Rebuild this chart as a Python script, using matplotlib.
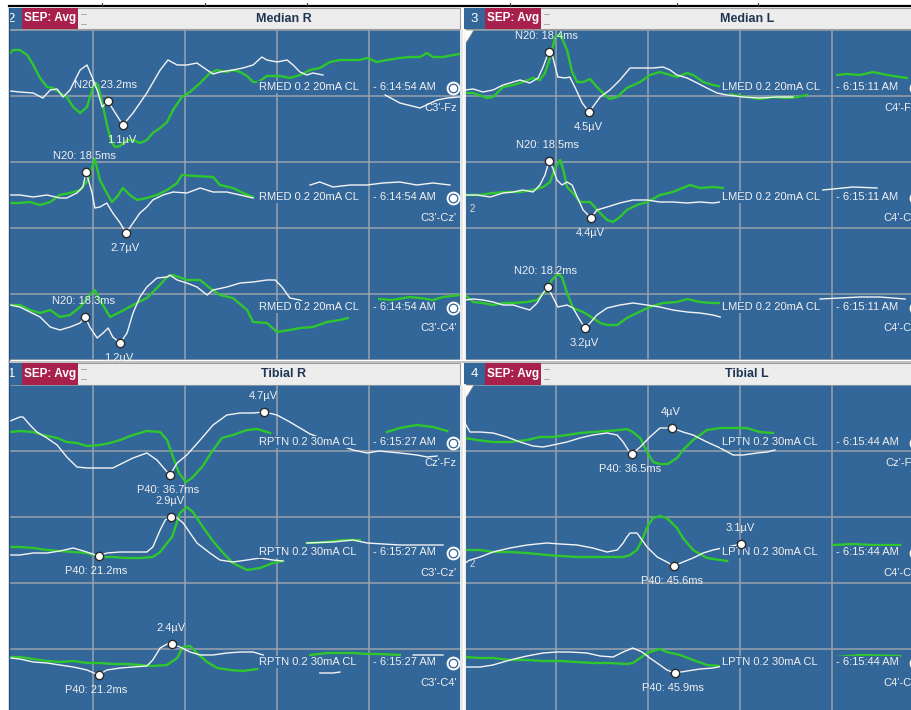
import numpy as np
import matplotlib
matplotlib.use("Agg")
import matplotlib.pyplot as plt
from matplotlib.patches import Rectangle, Polygon

plt.rcParams['font.family'] = ['Liberation Sans', 'DejaVu Sans']

GAP = (np.nan, np.nan)

# Averaged SEP traces: (latency ms, amplitude µV relative to channel baseline)
# white = current average, green = baseline reference average

# ---- Median R ----
mr1_white = [(2.0,-0.6),(4.1,-0.7),(7.0,-0.8),(9.1,-1.3),(10.7,-0.5),(12.2,-0.4),(13.5,-1.2),(15.0,-0.5),
             (17.2,1.5),(18.7,2.0),(19.8,0.8),(20.9,-0.5),(22.0,-2.2),(23.2,-1.6),(26.5,-4.0),(28.7,-2.8),
             (31.7,-0.8),(34.6,1.5),(36.3,2.5),(38.3,2.0),(40.4,2.0),(42.6,2.2),(44.8,1.5),(46.1,1.1),
             (47.6,1.3),(50.4,1.5),(52.6,1.7),(54.8,2.0),(56.7,2.8),(57.8,2.5),(60.0,2.3),(62.2,2.5),
             (63.5,2.0),(65.0,1.3),(66.5,1.0),(67.8,1.2),(70.0,1.0),GAP,(83.5,-1.0),(86.7,-1.8),
             (91.1,-2.3),(94.8,-1.5),(97.0,-1.3),(99.6,-1.2)]
mr1_green = [(2.0,3.2),(2.6,3.5),(4.1,3.5),(5.7,3.0),(7.0,2.0),(8.5,0.7),(10.0,-0.2),(11.3,-0.3),
             (12.8,-0.8),(14.3,-1.2),(15.7,-2.2),(17.2,-2.8),(18.7,-2.2),(19.8,-0.5),(20.4,0.2),(21.1,0.0),
             (22.2,-2.2),(23.3,-4.5),(24.1,-5.8),(24.8,-6.2),(25.9,-6.1),(27.4,-5.5),(28.7,-5.5),(30.2,-5.8),
             (31.7,-5.5),(33.0,-4.8),(34.6,-4.3),(36.1,-3.7),(37.4,-2.5),(39.3,-1.2),(41.1,-0.7),(43.3,0.2),
             (45.4,1.2),(47.0,1.5),(49.1,1.3),(50.4,1.5),(52.0,1.3),(53.5,0.9),(54.8,0.3),(55.9,0.3),
             (57.8,0.9),(60.7,0.9),(62.8,0.7),(65.0,1.0),(67.2,1.5),(69.3,1.7),(71.5,2.3),(73.7,2.5),
             (75.9,2.5),(78.0,2.5),(79.6,2.7),(81.7,2.3),(83.9,2.5),(86.7,2.7),(88.9,2.8),(91.1,2.8),
             (92.6,3.2),(93.9,2.8),(96.1,2.8),(98.3,3.0),(99.8,3.1)]
mr2_white = [(2.0,0.0),(4.1,0.0),(7.0,-0.2),(10.0,0.0),(12.8,-0.3),(14.3,-0.3),(16.5,0.2),(17.8,0.8),
             (18.5,2.3),(19.8,0.2),(20.4,-1.3),(21.5,-1.2),(23.0,-0.8),(24.3,-1.8),(25.9,-2.8),(27.2,-3.8),
             (28.7,-2.8),(30.2,-1.8),(31.7,-1.2),(33.0,-0.5),(35.2,0.0),(37.4,0.3),(40.4,0.2),(43.3,0.7),
             (46.1,0.3),(49.1,0.3),(52.0,0.0),(54.8,-0.3),GAP,(67.2,1.0),(69.3,1.3),(72.2,0.8),(75.9,1.0),
             (79.6,1.0),(83.0,1.2),(86.7,1.3),(90.4,1.0),(93.9,1.2),(97.6,1.0)]
mr2_green = [(2.0,-0.8),(4.1,-0.8),(6.3,-0.7),(8.5,-1.0),(10.7,-0.7),(12.8,0.0),(15.0,0.2),(17.2,0.5),
             (18.9,1.5),(20.4,3.6),(21.5,1.5),(23.0,0.2),(24.1,-0.7),(25.2,-0.2),(26.5,0.7),(28.0,0.0),
             (29.6,-0.5),(31.7,-0.3),(33.9,0.0),(36.1,0.5),(38.3,1.2),(39.3,2.0),(42.2,1.9),(46.1,1.8),
             (47.6,1.0),(50.4,0.7),(52.6,0.2),(54.8,-0.2)]
mr3_white = [(2.0,0.0),(4.1,-0.2),(6.3,-0.7),(8.5,-1.2),(10.7,-2.2),(12.8,-2.5),(15.0,-2.2),(17.2,-1.8),
             (18.3,-1.2),(19.3,-2.2),(20.9,-3.3),(22.2,-2.8),(23.3,-2.3),(24.3,-3.2),(25.9,-3.8),(27.4,-2.8),
             (28.7,-0.8),(30.2,0.8),(31.7,1.8),(33.9,2.7),(36.1,2.8),(36.7,3.0),(38.3,2.5),(40.4,2.2),
             (42.6,1.8),(44.8,1.0),(46.1,1.5),(49.1,1.8),(52.0,2.2),(54.8,2.3),(57.8,2.5),(59.6,2.5),
             (61.1,1.8),(62.8,0.7),(65.0,0.5),(65.7,0.3)]
mr3_green = [(2.0,0.0),(4.1,0.0),(6.3,-0.5),(8.5,-0.8),(10.7,-0.5),(12.8,-1.2),(15.0,-1.0),(17.2,-0.2),
             (19.3,1.0),(20.4,1.5),(21.5,0.5),(23.7,-1.2),(25.9,-0.7),(28.7,0.0),(31.7,0.7),(33.9,1.7),
             (36.1,2.8),(37.4,3.0),(40.4,2.5),(43.3,2.5),(45.4,1.7),(47.6,1.0),(50.4,0.7),(53.5,-0.5),
             (54.8,-1.7),(57.8,-1.8),(60.0,-2.7),(62.8,-2.5),(65.0,-2.3),(67.8,-2.2),(70.9,-1.7),(73.7,-1.5),
             (75.4,-1.3),GAP,(82.2,0.6),(85.0,0.5),(88.9,0.8),(91.1,0.7),(93.9,0.5),(96.1,0.8),(99.8,1.0)]

# ---- Median L ----
ml1_white = [(0.2,-0.5),(2.0,-0.4),(4.1,-0.7),(6.3,-0.5),(8.5,0.0),(10.7,0.3),(12.2,0.5),(14.3,0.2),
             (16.1,0.7),(17.2,1.8),(18.4,3.3),(19.3,2.8),(20.4,0.8),(22.0,0.7),(23.0,0.8),(24.1,-0.2),
             (25.7,-1.8),(27.2,-2.7),(28.0,-2.2),(29.6,-1.2),(31.7,-0.5),(33.9,0.5),(36.1,1.7),(38.3,1.7),
             (41.1,1.7),(43.3,1.8),(44.8,1.5),(46.3,1.0),(48.5,0.7),(50.7,0.2),(52.8,-0.3),(55.0,-0.8),
             (57.2,-1.0),(60.7,-1.2),(64.3,-1.3),(68.0,-1.2),(71.5,-1.2)]
ml1_green = [(0.2,-0.8),(2.0,-0.8),(5.0,-1.3),(6.3,-1.2),(8.5,-0.2),(10.7,0.0),(12.8,0.3),(15.0,0.7),
             (16.5,0.5),(17.6,1.2),(18.7,2.7),(19.8,4.8),(20.9,5.1),(22.4,3.5),(23.5,1.3),(24.6,0.3),
             (25.9,0.3),(27.4,0.6),(28.9,-0.2),(30.2,-0.8),(31.7,-1.4),(33.3,-1.2),(35.4,-0.3),(38.3,0.3),
             (40.4,1.0),(42.6,1.3),(44.8,1.0),(46.3,0.8),(48.5,1.2),(49.8,1.0),(52.0,0.3),(54.1,0.0),
             (56.3,-0.2),(58.5,-1.0),(61.5,-1.2),(64.3,-1.4),(67.2,-1.2),(70.2,-1.3),(72.4,-1.2),(74.6,-1.0),
             GAP,(81.1,1.0),(83.3,1.1),(86.1,1.0),(88.9,1.3),(92.0,1.0),(94.8,0.8),(96.3,0.7)]
ml2_white = [(0.2,0.0),(2.8,0.0),(5.7,-0.2),(8.5,0.2),(10.7,0.3),(12.8,0.5),(15.0,0.3),(16.5,1.0),
             (17.6,2.0),(18.5,3.4),(19.3,2.7),(20.2,1.5),(21.3,1.0),(22.4,1.3),(23.5,1.0),(24.6,-0.2),
             (25.9,-1.5),(27.6,-2.3),(28.9,-1.5),(31.1,-1.2),(33.9,-0.8),(36.7,-0.5),(39.8,-0.5),(42.6,-0.7),
             (45.4,-0.7),(48.5,-0.8),(51.3,-0.7),(54.1,-0.8),(55.7,-0.7),GAP,(78.0,0.5),(82.4,0.7),
             (84.6,0.8),(89.8,0.7)]
ml2_green = [(0.2,0.0),(3.5,0.0),(6.3,0.2),(9.3,0.3),(12.2,0.3),(15.0,0.5),(17.2,0.8),(18.7,1.3),
             (19.8,2.7),(20.9,3.5),(21.6,2.5),(22.4,0.8),(23.7,0.2),(25.2,-0.7),(27.4,-0.7),(29.6,-1.8),
             (31.1,-2.5),(32.4,-2.7),(33.9,-2.2),(35.4,-1.5),(37.6,-1.0),(39.8,-0.7),(42.6,0.0),(45.4,0.3),
             (49.1,1.0),(51.3,0.7),(54.1,0.8),(56.3,0.7)]
ml3_white = [(0.2,0.5),(2.0,0.6),(4.1,0.5),(6.3,0.3),(8.5,0.0),(10.7,0.0),(12.8,-0.3),(14.3,-0.5),
             (15.9,0.2),(17.2,1.2),(18.2,1.8),(19.3,0.8),(20.4,-0.2),(22.4,0.0),(23.7,-0.3),(25.2,-1.5),
             (26.3,-2.3),(27.4,-1.8),(28.9,-1.0),(31.1,-0.3),(33.9,0.0),(36.7,0.2),(39.8,0.0),(42.6,-0.2),
             (45.4,-0.5),(48.5,-0.7),(51.3,-0.8),(54.1,-1.0),(55.7,-1.2),GAP,(77.4,0.6),(81.7,0.7),
             (86.1,0.8),(90.4,0.8),(95.9,0.6)]
ml3_green = [(0.2,1.0),(2.0,0.3),(4.1,0.2),(6.3,0.0),(8.5,0.2),(10.7,0.2),(13.7,0.3),(15.9,0.5),
             (17.6,1.3),(19.1,2.5),(20.4,3.1),(21.3,2.8),(22.4,1.2),(23.7,-0.3),(25.9,-0.7),(28.0,-1.3),
             (29.6,-1.8),(31.1,-2.0),(33.3,-2.0),(35.4,-1.3),(37.6,-0.8),(40.4,-0.2),(43.3,0.2),(46.3,0.3),
             (48.5,0.6),(51.3,0.3),(54.1,0.2),(56.1,0.2)]

# ---- Tibial R ----
tr1_white = [(2.0,1.9),(4.1,2.3),(4.8,2.3),(6.3,1.5),(7.8,0.8),(10.0,0.2),(12.2,-0.5),(14.3,-1.7),
             (16.5,-2.7),(18.7,-2.8),(21.5,-2.8),(24.3,-2.8),(26.5,-2.3),(28.7,-1.8),(31.7,-1.3),(33.9,-2.0),
             (35.2,-2.7),(36.7,-3.5),(38.3,-2.3),(40.4,-1.5),(43.3,0.0),(46.1,1.5),(49.1,2.5),(52.0,2.7),
             (54.8,2.7),(57.2,2.8),(60.0,2.5),(62.8,1.8),(65.0,1.2),(67.2,0.6),(76.5,-1.0),(79.6,-1.3),
             (82.2,-1.1),(86.7,-1.3),(90.4,-1.5),(92.6,-1.7),(94.8,-1.6)]
tr1_green = [(2.0,0.8),(4.1,0.9),(7.0,0.8),(9.1,0.5),(12.2,0.2),(14.3,-0.2),(16.5,-0.3),(18.7,-0.6),
             (21.5,-0.5),(23.7,-0.3),(25.9,0.0),(28.7,0.5),(31.7,0.9),(34.6,0.8),(36.1,0.0),(37.4,-1.7),
             (38.7,-3.3),(40.2,-4.2),(41.5,-3.8),(43.7,-2.7),(46.1,-1.0),(48.0,0.2),(50.4,0.5),(53.5,1.0),
             (55.7,1.1),(57.8,0.8),(58.5,0.7),GAP,(83.9,0.8),(86.7,1.2),(90.4,1.5),(93.9,1.3),(97.0,0.9)]
tr2_white = [(2.0,-0.5),(4.1,-0.5),(7.0,-0.3),(10.0,-0.3),(12.8,-0.1),(15.7,0.2),(17.2,0.0),(19.3,-0.3),
             (21.2,-0.6),(23.0,-0.3),(25.9,-0.2),(28.7,-0.2),(31.7,-0.2),(33.0,0.3),(34.6,2.0),(35.7,3.0),
             (37.0,3.3),(38.3,3.2),(39.6,2.7),(41.1,1.7),(42.6,0.7),(45.4,-0.3),(47.6,-1.0),(50.4,-1.2),
             (53.5,-1.0),(56.3,-0.8),(59.1,-1.0),(61.3,-1.1),GAP,(66.5,0.7),(72.2,0.8),(76.5,1.0),
             (79.6,0.7),(86.7,0.5),(96.1,0.5)]
tr2_green = [(2.0,0.3),(4.1,0.3),(7.0,0.2),(10.0,0.0),(12.8,-0.1),(15.7,-0.2),(18.7,-0.3),(21.5,-0.7),
             (24.3,-0.7),(27.4,-0.8),(30.2,-0.8),(33.0,-0.7),(34.6,-0.2),(36.1,0.7),(37.2,1.3),(38.9,3.7),
             (40.4,4.3),(41.7,3.8),(43.9,2.3),(45.9,1.0),(48.3,-0.3),(50.4,-1.3),(53.5,-2.0),(56.3,-1.8),
             (59.1,-1.3),(61.3,-1.1),GAP,(66.5,0.7),(70.9,0.8),(74.3,1.0),(78.0,1.0)]
tr3_white = [(2.0,0.2),(4.1,0.1),(7.0,-0.2),(10.0,-0.3),(12.8,-0.5),(15.7,-0.7),(18.7,-1.0),(21.2,-1.5),
             (23.0,-1.0),(25.9,-0.8),(28.7,-0.7),(31.7,-0.6),(33.0,0.0),(34.6,1.2),(36.1,1.6),(37.2,1.6),
             (38.9,1.3),(41.1,0.8),(43.3,0.5),(46.1,0.5),(49.1,0.7),(52.0,0.8),(54.8,0.8),(57.0,0.5),
             GAP,(69.3,-1.3),(72.2,-1.3),(73.7,-1.2),GAP,(89.6,0.5),(96.1,0.5)]
tr3_green = [(2.0,0.3),(4.1,0.3),(7.0,0.1),(10.0,-0.1),(12.8,-0.2),(15.7,-0.1),(18.7,-0.3),(21.5,-0.3),
             (24.3,-0.4),(27.4,-0.4),(30.2,-0.5),(33.0,-0.6),(36.1,-0.5),(38.3,0.2),(39.6,1.3),(41.1,1.4),
             (42.6,0.7),(44.8,-0.2),(47.0,-0.8),(49.8,-1.0),(52.6,-1.1),(55.7,-0.9),GAP,(67.2,0.5),
             (70.9,0.7),(73.7,0.7),(76.5,0.7),(79.6,0.6),(82.2,0.6),(86.7,0.5)]

# ---- Tibial L ----
tl1_white = [(0.2,1.7),(1.3,0.8),(3.5,0.8),(6.3,0.7),(9.3,0.3),(12.2,-0.2),(15.0,-0.6),(17.2,-0.7),
             (19.3,-0.5),(22.4,-0.2),(25.2,0.2),(28.0,0.5),(31.1,0.7),(33.3,0.5),(34.6,-0.2),(35.7,-1.0),
             (36.5,-1.4),(38.3,-0.7),(40.4,0.3),(42.6,1.2),(45.2,1.2),(47.6,0.8),(49.8,0.5),(52.8,-0.2),
             (55.7,-0.8),(58.5,-1.5),(60.7,-1.5),(63.7,-1.3),(65.9,-1.2),(67.6,-1.0)]
tl1_green = [(0.2,0.2),(2.8,0.0),(6.3,-0.2),(10.0,-0.2),(13.7,0.0),(16.5,0.3),(19.3,0.3),(22.4,0.5),
             (25.2,0.7),(28.0,0.8),(31.1,0.9),(33.9,1.0),(35.4,1.1),(36.7,0.8),(38.3,0.2),(39.8,-1.2),
             (41.1,-2.2),(42.6,-2.4),(44.3,-2.4),(46.3,-1.8),(47.6,-1.0),(49.8,0.0),(52.8,1.0),(55.7,1.2),
             (58.5,1.2),(61.5,1.2),(64.3,0.8),(67.2,0.7)]
tl2_white = [(0.2,-1.3),(1.3,-1.0),(3.5,-0.7),(6.3,-0.2),(10.0,0.2),(13.7,0.5),(18.0,0.7),(20.9,0.6),
             (24.6,0.5),(28.0,0.2),(31.1,-0.2),(33.3,0.0),(34.6,0.7),(35.4,1.3),(36.1,1.7),(37.6,1.7),
             (38.7,1.0),(39.8,0.3),(42.0,-0.7),(44.1,-1.2),(45.6,-1.6),(47.6,-1.2),(49.8,-0.8),(52.0,-0.3),
             (54.1,0.0),(57.2,0.3),(60.2,0.6)]
tl2_green = [(0.2,0.0),(3.5,0.0),(6.3,-0.2),(10.0,-0.2),(13.7,-0.3),(18.0,-0.5),(20.9,-0.6),(24.6,-0.7),
             (28.0,-0.7),(31.7,-0.7),(34.6,-0.7),(36.1,-0.5),(37.6,0.0),(38.7,1.0),(39.8,2.3),(41.1,3.2),
             (42.6,3.4),(44.1,3.2),(46.3,2.2),(47.6,1.2),(49.8,0.0),(52.8,-0.8),(55.7,-1.0),(57.2,-1.1),
             GAP,(80.2,0.5),(84.6,0.6),(88.9,0.5),(94.8,0.5)]
tl3_white = [(0.2,-0.7),(3.5,-0.7),(6.3,-0.5),(10.0,0.0),(13.7,0.4),(17.2,0.7),(20.2,0.8),(23.0,0.8),
             (26.7,0.7),(29.6,0.4),(32.4,0.3),(34.6,0.8),(36.7,1.2),(38.7,0.8),(40.4,0.2),(42.6,-0.5),
             (44.1,-1.0),(45.9,-1.3),(48.5,-1.1),(51.3,-0.9),(54.1,-0.8),(56.3,-0.6)]
tl3_green = [(0.2,0.3),(3.5,0.2),(6.3,0.2),(10.0,0.0),(13.7,0.0),(17.2,-0.1),(20.9,-0.1),(24.6,-0.2),
             (28.0,-0.3),(31.7,-0.3),(35.4,-0.4),(36.7,-0.3),(38.3,0.2),(39.8,0.7),(41.1,0.9),(42.6,1.1),
             (44.1,0.8),(47.0,0.5),(49.8,0.0),(52.8,-0.5),(55.7,-0.6),(56.3,-0.6),GAP,(81.1,0.3),
             (86.1,0.5),(94.8,0.4)]

# ---- cursor marks ----
median_r_n20_ms = [23.2, 18.5, 18.3]
median_r_trough_ms = [26.5, 27.2, 25.9]
median_r_amp_uV = [1.1, 2.7, 1.2]
median_l_n20_ms = [18.4, 18.5, 18.2]
median_l_trough_ms = [27.2, 27.6, 26.3]
median_l_amp_uV = [4.5, 4.4, 3.2]
tibial_r_p40_ms = [36.7, 21.2, 21.2]
tibial_r_peak_ms = [57.2, 37.0, 37.2]
tibial_r_amp_uV = [4.7, 2.9, 2.4]
tibial_l_p40_ms = [36.5, 45.6, 45.9]
tibial_l_peak_ms = [45.2, 60.2, None]
tibial_l_amp_uV = [4, 3.1, None]

# ---- channel annotations (right-hand window shows only the start of each name) ----
median_r_channels = ["C3'-Fz", "C3'-Cz'", "C3'-C4'"]
median_l_channels = ["C4'-F", "C4'-C", "C4'-C"]
tibial_r_channels = ["Cz'-Fz", "C3'-Cz'", "C3'-C4'"]
tibial_l_channels = ["Cz'-F", "C4'-C", "C4'-C"]
stim_labels = ["RMED 0.2 20mA CL", "LMED 0.2 20mA CL", "RPTN 0.2 30mA CL", "LPTN 0.2 30mA CL"]
clock_labels = ["- 6:14:54 AM", "- 6:15:11 AM", "- 6:15:27 AM", "- 6:15:44 AM"]
panel_titles = ["Median R", "Median L", "Tibial R", "Tibial L"]
panel_numbers = ["2", "3", "1", "4"]

# ---- styling ----
W, H = 912, 710
PX_PER_MS = 4.6          # 20 ms per 92 px grid division
PANEL_BG = '#336699'
GRID = '#9AA2AC'
WHITE_TR = '#F4F4F4'
GREEN_TR = '#2EC72E'
LABEL = '#F0F0F0'
SEP_RED = '#A8214C'
HEAD_BG = '#EDEDED'
TITLE_C = '#1F3653'
OFFSETS = [27.5, 16.5, 5.5]

fig = plt.figure(figsize=(W / 100, H / 100), dpi=100, facecolor='white')

bg = fig.add_axes([0, 0, 1, 1])
bg.set_xlim(0, W); bg.set_ylim(H, 0); bg.axis('off')


def px_axes(x0, y0, x1, y1, z=1):
    return fig.add_axes([x0 / W, 1 - y1 / H, (x1 - x0) / W, (y1 - y0) / H], zorder=z)


def header(ox, x1, y0, y1, num, title):
    bg.add_patch(Rectangle((ox, y0), x1 - ox, y1 - y0, fc=HEAD_BG, ec='#9C9C9C', lw=0.8))
    bg.add_patch(Rectangle((ox, y0), 21, y1 - y0, fc=PANEL_BG, ec='none'))
    bg.add_patch(Rectangle((ox + 21, y0), 56, y1 - y0, fc=SEP_RED, ec='none'))
    ym = (y0 + y1) / 2
    bg.text(ox + 10.5, ym, num, color='white', fontsize=9.5, ha='center', va='center')
    bg.text(ox + 49, ym, 'SEP: Avg', color='white', fontsize=8.5, fontweight='bold',
            ha='center', va='center')
    for dy in (-5, 5):
        bg.plot([ox + 80, ox + 85], [ym + dy, ym + dy], color='#666666', lw=0.7,
                dashes=(1, 1))
    bg.text(ox + 283, ym, title, color=TITLE_C, fontsize=9, fontweight='bold',
            ha='center', va='center')


def pts(trace):
    a = np.array(trace, dtype=float)
    return a[:, 0], a[:, 1]


def value_at(trace, t):
    x, y = pts(trace)
    m = ~np.isnan(x)
    return float(np.interp(t, x[m], y[m]))


panels = [
    dict(ox=1, x0=9, x1=460, y0=30, y1=360, hy=(8, 29), ylim=(0, 33),
         traces=[(mr1_white, mr1_green), (mr2_white, mr2_green), (mr3_white, mr3_green)],
         chans=median_r_channels, lat=median_r_n20_ms, amp_t=median_r_trough_ms,
         amp=median_r_amp_uV, comp='N20', above=True),
    dict(ox=464, x0=464, x1=912, y0=30, y1=360, hy=(8, 29), ylim=(0, 33),
         traces=[(ml1_white, ml1_green), (ml2_white, ml2_green), (ml3_white, ml3_green)],
         chans=median_l_channels, lat=median_l_n20_ms, amp_t=median_l_trough_ms,
         amp=median_l_amp_uV, comp='N20', above=True),
    dict(ox=1, x0=9, x1=460, y0=385, y1=710, hy=(363, 385), ylim=(0.5, 33),
         traces=[(tr1_white, tr1_green), (tr2_white, tr2_green), (tr3_white, tr3_green)],
         chans=tibial_r_channels, lat=tibial_r_p40_ms, amp_t=tibial_r_peak_ms,
         amp=tibial_r_amp_uV, comp='P40', above=False),
    dict(ox=464, x0=464, x1=912, y0=385, y1=710, hy=(363, 385), ylim=(0.5, 33),
         traces=[(tl1_white, tl1_green), (tl2_white, tl2_green), (tl3_white, tl3_green)],
         chans=tibial_l_channels, lat=tibial_l_p40_ms, amp_t=tibial_l_peak_ms,
         amp=tibial_l_amp_uV, comp='P40', above=False),
]

for i, p in enumerate(panels):
    header(p['ox'], 912 if p['ox'] > 100 else 460, p['hy'][0], p['hy'][1],
           panel_numbers[i], panel_titles[i])
    ax = px_axes(p['x0'], p['y0'], p['x1'], p['y1'], z=2)
    ax.set_facecolor(PANEL_BG)
    # grid first, then the view limits (setting ticks would widen the view)
    ax.set_xticks(np.arange(0, 101, 20))
    ax.set_yticks(np.arange(0, 33.1, 6.6))
    xmin, xmax = (p['x0'] - p['ox']) / PX_PER_MS, (p['x1'] - p['ox']) / PX_PER_MS
    ax.set_xlim(xmin, xmax)
    ax.set_ylim(*p['ylim'])
    ax.grid(True, color=GRID, lw=1.1)
    ax.set_axisbelow(True)
    ax.tick_params(length=0, labelbottom=False, labelleft=False)
    for s in ax.spines.values():
        s.set_visible(False)
    chan_x = min(99.1, xmax - 0.1)

    for ci, (w, g) in enumerate(p['traces']):
        off = OFFSETS[ci]
        gt, gv = pts(g)
        ax.plot(gt, gv + off, color=GREEN_TR, lw=1.7, zorder=3, solid_joinstyle='round')
        wt, wv = pts(w)
        ax.plot(wt, wv + off, color=WHITE_TR, lw=1.0, zorder=4, solid_joinstyle='round')

        box = dict(boxstyle='square,pad=0.12', fc=PANEL_BG, ec='none')
        ax.text(56.0, off - 0.2, stim_labels[i], color=LABEL, fontsize=8, ha='left',
                va='center', bbox=box, zorder=5)
        ax.text(80.9, off - 0.2, clock_labels[i], color=LABEL, fontsize=8, ha='left',
                va='center', bbox=box, zorder=5)
        ax.text(chan_x, off - 2.3, p['chans'][ci], color=LABEL, fontsize=8, ha='right',
                va='center', zorder=5)
        ax.plot([98.3], [off - 0.3], 'o', ms=8.5, mfc=PANEL_BG, mec='white', mew=1.4, zorder=6)
        ax.plot([98.3], [off - 0.3], 'o', ms=4.2, mfc='white', mec='white', zorder=6)

        mk = dict(marker='o', ms=6, mfc='white', mec='#2A2A2A', mew=1.0, ls='none', zorder=7)
        t_lat = p['lat'][ci]
        y_lat = value_at(w, t_lat) + off
        ax.plot([t_lat], [y_lat], **mk)
        lat_txt = f"{p['comp']}: {t_lat:.1f}ms"
        ax.annotate(lat_txt, (t_lat, y_lat), xytext=(-2, 16 if p['above'] else -15),
                    textcoords='offset pixels', ha='center', va='center', color=LABEL,
                    fontsize=8, zorder=8)
        if p['amp_t'][ci] is not None:
            t_amp = p['amp_t'][ci]
            y_amp = value_at(w, t_amp) + off
            ax.plot([t_amp], [y_amp], **mk)
            ax.annotate(f"{p['amp'][ci]:g}µV", (t_amp, y_amp),
                        xytext=(-1, -15 if p['above'] else 16),
                        textcoords='offset pixels', ha='center', va='center', color=LABEL,
                        fontsize=8, zorder=8)

    if p['ox'] > 100:
        ax.text(1.7, OFFSETS[1] - 1.4, '2', color='#DDDDDD', fontsize=7, ha='center',
                va='center', zorder=5)

# overlay: window edges, separators, stimulus markers
ov = fig.add_axes([0, 0, 1, 1], zorder=20)
ov.set_xlim(0, W); ov.set_ylim(H, 0); ov.axis('off')
ov.add_patch(Rectangle((0, 0), 9, H, fc='white', ec='none'))
ov.plot([9.5, 9.5], [8, H], color='#2B4F78', lw=1.0)
ov.add_patch(Rectangle((9, 0), W - 9, 5, fc='white', ec='none'))
ov.plot([9, W], [6, 6], color='black', lw=1.6)
for tx in (102, 205, 307, 510, 677, 758):
    ov.plot([tx, tx], [2.5, 5], color='#444444', lw=0.8)
ov.add_patch(Rectangle((460, 30), 3.5, 330, fc='#E6E6E6', ec='none'))
ov.add_patch(Rectangle((460, 385), 3.5, 325, fc='#E6E6E6', ec='none'))
ov.plot([9, W], [361.5, 361.5], color='#B8B8B8', lw=1.2)
for (ya, yb) in ((30, 360), (385, 710)):
    ov.plot([464.6, 464.6], [ya, yb], color='white', lw=1.3)
    ov.add_patch(Polygon([(464.5, ya), (474, ya), (466, ya + 13)], closed=True,
                         fc='white', ec='#888888', lw=0.5))

fig.savefig('out.png', dpi=100, facecolor='white')
